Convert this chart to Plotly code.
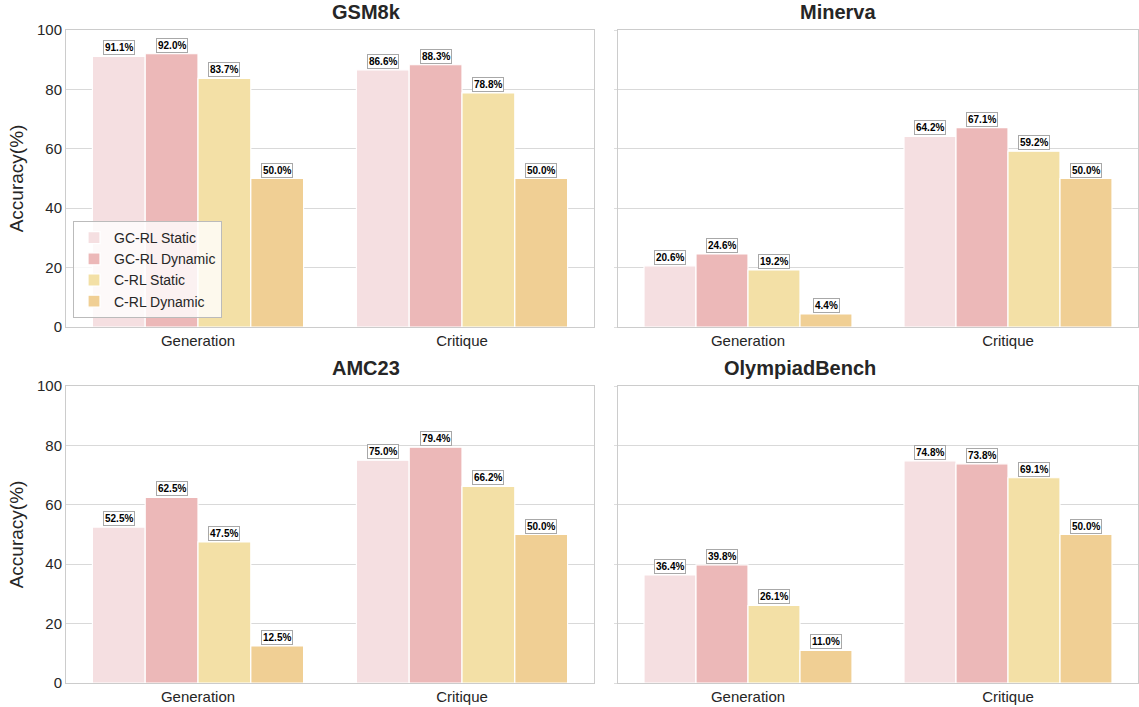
import plotly.graph_objects as go

categories = ["Generation", "Critique"]
series_names = ["GC-RL Static", "GC-RL Dynamic", "C-RL Static", "C-RL Dynamic"]
panel_titles = ["GSM8k", "Minerva", "AMC23", "OlympiadBench"]

gsm8k = {"GC-RL Static": [91.1, 86.6], "GC-RL Dynamic": [92.0, 88.3],
         "C-RL Static": [83.7, 78.8], "C-RL Dynamic": [50.0, 50.0]}
minerva = {"GC-RL Static": [20.6, 64.2], "GC-RL Dynamic": [24.6, 67.1],
           "C-RL Static": [19.2, 59.2], "C-RL Dynamic": [4.4, 50.0]}
amc23 = {"GC-RL Static": [52.5, 75.0], "GC-RL Dynamic": [62.5, 79.4],
         "C-RL Static": [47.5, 66.2], "C-RL Dynamic": [12.5, 50.0]}
olympiad = {"GC-RL Static": [36.4, 74.8], "GC-RL Dynamic": [39.8, 73.8],
            "C-RL Static": [26.1, 69.1], "C-RL Dynamic": [11.0, 50.0]}

y_ticks = [0, 20, 40, 60, 80, 100]

colors = ["#f5dfe1", "#ecb8b8", "#f3e0a6", "#f0cf94"]

panels = [gsm8k, minerva, amc23, olympiad]

W, H = 1139, 707
# pixel boxes of the four plot areas
boxes = [(66, 594, 30, 327), (618, 1138, 30, 327), (66, 594, 386, 683), (618, 1138, 386, 683)]

FONT = "Liberation Sans, Arial, sans-serif"
fig = go.Figure()
annotations = []
bar_w = 0.2

for p, (data, title, box) in enumerate(zip(panels, panel_titles, boxes)):
    sfx = "" if p == 0 else str(p + 1)
    xa, ya = "x" + sfx, "y" + sfx
    for i, name in enumerate(series_names):
        xs = [j + (i - 1.5) * bar_w for j in range(len(categories))]
        vals = data[name]
        fig.add_trace(go.Bar(
            x=xs, y=vals, width=bar_w, name=name, marker_color=colors[i],
            marker_line=dict(color="white", width=1.2),
            xaxis=xa, yaxis=ya, showlegend=(p == 0), legendrank=i,
            hoverinfo="skip"))
        for x, v in zip(xs, vals):
            annotations.append(dict(
                x=x, y=v, xref=xa, yref=ya, text=f"<b>{v:.1f}%</b>",
                showarrow=False, yanchor="bottom", yshift=1,
                font=dict(size=10, color="black", family=FONT),
                bgcolor="white", bordercolor="#a8a8a8", borderwidth=1, borderpad=1))
    x0, x1, y0, y1 = box
    dom_x = [x0 / W, x1 / W]
    dom_y = [1 - y1 / H, 1 - y0 / H]
    left = p in (0, 2)
    fig.update_layout(**{
        ("xaxis" + sfx): dict(
            domain=dom_x, range=[-0.5, 1.5], tickvals=list(range(len(categories))),
            ticktext=categories, showgrid=False, zeroline=False,
            showline=True, mirror=True, linecolor="#cccccc", linewidth=1,
            tickfont=dict(size=15, color="#262626", family=FONT), ticks="",
            anchor=ya, fixedrange=True, automargin=False),
        ("yaxis" + sfx): dict(
            domain=dom_y, range=[0, 100], tickvals=y_ticks,
            showticklabels=left, showgrid=True, gridcolor="#d9d9d9", gridwidth=1,
            zeroline=False, showline=True, mirror=True, linecolor="#cccccc", linewidth=1,
            ticks="" if left else "outside", ticklen=3, tickcolor="#dddddd",
            tickfont=dict(size=15, color="#262626", family=FONT),
            title=dict(text="Accuracy(%)" if left else "",
                       font=dict(size=19, color="#262626", family=FONT), standoff=8),
            anchor=xa, fixedrange=True, automargin=False),
    })
    annotations.append(dict(
        x=(dom_x[0] + dom_x[1]) / 2, y=1 - (y0 - 5) / H, xref="paper", yref="paper",
        text=f"<b>{title}</b>", showarrow=False, yanchor="bottom",
        font=dict(size=20, color="#262626", family=FONT)))

fig.update_layout(
    width=W, height=H, margin=dict(l=0, r=0, t=0, b=0),
    plot_bgcolor="white", paper_bgcolor="white",
    barmode="overlay", annotations=annotations,
    font=dict(family=FONT, color="#262626"),
    legend=dict(x=73 / W, y=1 - 318 / H, xanchor="left", yanchor="bottom",
                bgcolor="rgba(255,255,255,0.8)", bordercolor="#bbbbbb", borderwidth=1,
                font=dict(size=14, color="#262626", family=FONT),
                tracegroupgap=0, itemwidth=30),
)

fig.write_html("out.html")
